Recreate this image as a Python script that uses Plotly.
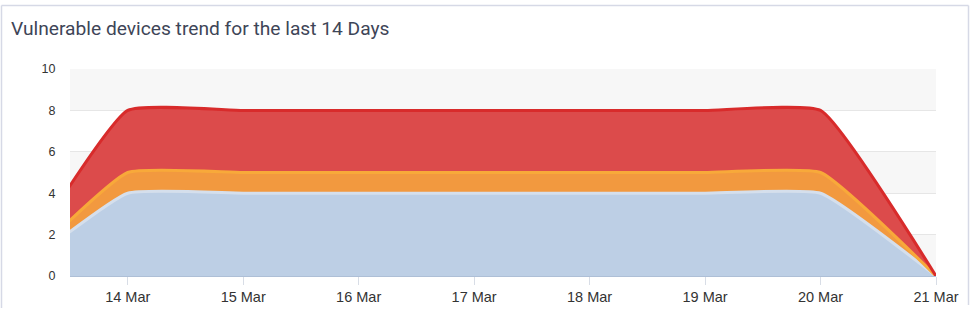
import plotly.graph_objects as go

dates = ["2024-03-13", "2024-03-14", "2024-03-15", "2024-03-16", "2024-03-17",
         "2024-03-18", "2024-03-19", "2024-03-20", "2024-03-21"]
low_vals = [0, 4, 4, 4, 4, 4, 4, 4, 0]
medium_vals = [0, 1, 1, 1, 1, 1, 1, 1, 0]
high_vals = [0, 3, 3, 3, 3, 3, 3, 3, 0]
tick_dates = ["2024-03-14", "2024-03-15", "2024-03-16", "2024-03-17",
              "2024-03-18", "2024-03-19", "2024-03-20", "2024-03-21"]
tick_labels = ["14 Mar", "15 Mar", "16 Mar", "17 Mar", "18 Mar", "19 Mar", "20 Mar", "21 Mar"]
y_ticks = [0, 2, 4, 6, 8, 10]

series = [
    ("Low", low_vals, "#bdcfe5", "#d5dfec"),
    ("Medium", medium_vals, "#f2993f", "#f8a93a"),
    ("High", high_vals, "#dc4b4b", "#d82b2b"),
]

fig = go.Figure()
for name, vals, fill, line in series:
    fig.add_trace(go.Scatter(
        x=dates, y=vals, name=name, mode="lines", stackgroup="one",
        line=dict(color=line, width=3, shape="spline", smoothing=0.4),
        fillcolor=fill, hoverinfo="skip",
    ))

L, R, T, B = 70, 39, 69, 57
W, H = 975, 333
pw, ph = W - L - R, H - T - B

shapes = []
# alternating bands
for y0 in (0, 4, 8):
    shapes.append(dict(type="rect", xref="paper", yref="y", x0=0, x1=1, y0=y0, y1=y0 + 2,
                       fillcolor="#f7f7f7", line=dict(width=0), layer="below"))


def px_x(px):
    return (px - L) / pw


def px_y(py):
    return (H - B - py) / ph


bc = "#d6d9e6"
shapes.append(dict(type="line", xref="paper", yref="paper", x0=px_x(1.5), x1=px_x(968.5),
                   y0=px_y(5.5), y1=px_y(5.5), line=dict(color=bc, width=1.5)))
shapes.append(dict(type="line", xref="paper", yref="paper", x0=px_x(1.5), x1=px_x(1.5),
                   y0=px_y(5.5), y1=px_y(308), line=dict(color=bc, width=1.5)))
shapes.append(dict(type="line", xref="paper", yref="paper", x0=px_x(968.5), x1=px_x(968.5),
                   y0=px_y(5.5), y1=px_y(305), line=dict(color=bc, width=1.5)))

fig.update_layout(
    width=W, height=H,
    margin=dict(l=L, r=R, t=T, b=B),
    paper_bgcolor="white", plot_bgcolor="white",
    showlegend=False,
    shapes=shapes,
    title=dict(text="Vulnerable devices trend for the last 14 Days",
               xref="container", yref="container", x=11 / W, xanchor="left",
               y=1 - 28 / H, yanchor="middle",
               font=dict(family="Roboto, Noto Sans, sans-serif", size=19.2, color="#3e4557")),
    xaxis=dict(
        type="date", range=["2024-03-13 12:00", "2024-03-21"],
        tickvals=tick_dates, ticktext=tick_labels,
        ticks="outside", ticklen=8, tickcolor="#d8dde6", tickwidth=1,
        showgrid=False, zeroline=False,
        showline=True, linecolor="#aebfd6", linewidth=1,
        tickfont=dict(family="Liberation Sans, Arial, sans-serif", size=14.5, color="#333333"),
    ),
    yaxis=dict(
        range=[0, 10], tickvals=y_ticks, ticktext=[str(v) for v in y_ticks],
        showgrid=True, gridcolor="#e6e6e6", gridwidth=1, zeroline=False,
        ticks="outside", ticklen=11, tickcolor="rgba(0,0,0,0)",
        tickfont=dict(family="Liberation Sans, Arial, sans-serif", size=12.5, color="#333333"),
    ),
)

fig.write_html("out.html", config={"displayModeBar": False},
               post_script="document.body.style.margin='0';")
